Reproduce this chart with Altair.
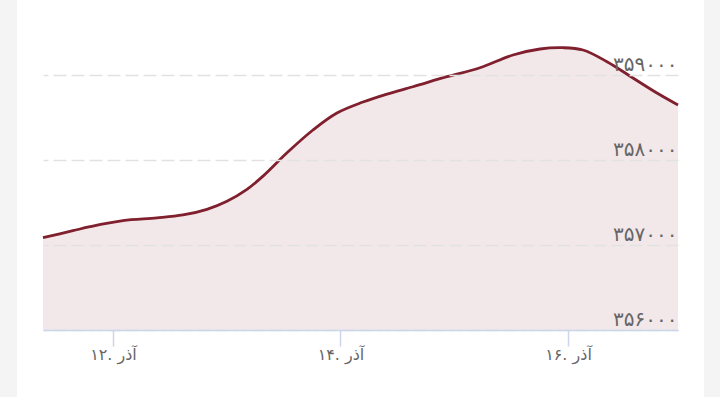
import altair as alt
import pandas as pd

# --- data (day of Azar, price) ---
days = [11.385, 11.648, 11.798, 12.088, 12.387, 12.615, 12.826, 13.002, 13.178,
        13.319, 13.530, 13.758, 13.969, 14.198, 14.409, 14.637, 14.936, 15.226,
        15.516, 15.754, 15.956, 16.132, 16.343, 16.571, 16.782, 16.967]
values = [357086, 357168, 357215, 357286, 357318, 357353, 357420, 357515, 357655,
          357810, 358085, 358353, 358553, 358682, 358776, 358862, 358980, 359085,
          359235, 359306, 359321, 359294, 359156, 358965, 358788, 358647]

x_ticks = [12, 14, 16]
x_tick_labels = ["۱۲. آذر", "۱۴. آذر", "۱۶. آذر"]
y_ticks = [356000, 357000, 358000, 359000]
y_tick_labels = ["۳۵۶۰۰۰", "۳۵۷۰۰۰", "۳۵۸۰۰۰", "۳۵۹۰۰۰"]
y_min, y_max = 356000, 359400

df = pd.DataFrame({"day": days, "price": values})

def label_expr(ticks, labels):
    expr = "''"
    for t, l in reversed(list(zip(ticks, labels))):
        expr = f"datum.value == {t} ? '{l}' : ({expr})"
    return expr

LINE = "#801f2d"
FONT = "DejaVu Sans"

x_enc = alt.X(
    "day:Q",
    scale=alt.Scale(domain=[min(days), max(days)], nice=False, zero=False),
    axis=alt.Axis(
        values=x_ticks, labelExpr=label_expr(x_ticks, x_tick_labels), title=None,
        grid=False, domainColor="#ccd6eb", domainWidth=1.5, tickColor="#ccd6eb",
        tickWidth=1.5, tickSize=16, labelPadding=0, labelFont=FONT, labelFontSize=16,
        labelColor="#666666", labelBaseline="top", zindex=1,
    ),
)
y_enc = alt.Y(
    "price:Q",
    scale=alt.Scale(domain=[y_min, y_max], nice=False, zero=False),
    axis=alt.Axis(
        orient="right", values=y_ticks, labelExpr=label_expr(y_ticks, y_tick_labels),
        title=None, domain=False, ticks=False, tickSize=0, labelPadding=-1,
        labelAlign="right", labelBaseline="alphabetic", labelOffset=-5,
        labelFont=FONT, labelFontSize=20, labelColor="#666666",
        grid=True, gridColor="#e2e2e2", gridDash=[13, 5], gridWidth=1.5, zindex=1,
    ),
)

card = alt.Chart(df).mark_rect(color="#ffffff").encode(
    x=alt.value(-26), x2=alt.value(661), y=alt.value(-41), y2=alt.value(356)
)
area = alt.Chart(df).mark_area(color=LINE, opacity=0.1, interpolate="catmull-rom").encode(
    x=x_enc, y=y_enc, y2=alt.Y2(datum=y_min)
)
line = alt.Chart(df).mark_line(color=LINE, strokeWidth=2.8, interpolate="catmull-rom").encode(
    x="day:Q", y="price:Q"
)

chart = (
    alt.layer(card, area, line)
    .properties(
        width=635, height=289, background="#f4f4f4",
        padding={"left": 43, "top": 41, "right": 42, "bottom": 67},
        autosize=alt.AutoSizeParams(type="none"),
    )
    .configure_view(stroke=None)
)

chart.save("out.html", embed_options={"renderer": "svg", "actions": False})
